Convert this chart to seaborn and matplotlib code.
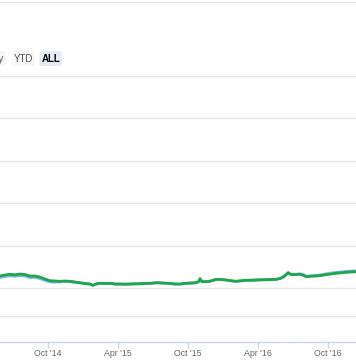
import matplotlib
matplotlib.use("Agg")
import matplotlib.pyplot as plt
from matplotlib.patches import FancyBboxPatch
import seaborn as sns
import pandas as pd

# ---- data ----
dates = ["2014-05-29", "2014-06-11", "2014-06-24", "2014-07-07", "2014-07-20", "2014-08-02",
         "2014-08-15", "2014-08-28", "2014-09-10", "2014-09-23", "2014-10-06", "2014-10-19",
         "2014-11-01", "2014-11-14", "2014-11-27", "2014-12-10", "2014-12-24", "2015-01-06",
         "2015-01-19", "2015-01-26", "2015-02-03", "2015-02-14", "2015-02-27", "2015-03-12",
         "2015-03-25", "2015-04-07", "2015-04-20", "2015-05-03", "2015-05-16", "2015-05-29",
         "2015-06-11", "2015-06-24", "2015-07-13", "2015-07-26", "2015-08-10", "2015-08-29",
         "2015-09-11", "2015-09-26", "2015-10-12", "2015-10-22", "2015-10-30", "2015-11-02",
         "2015-11-07", "2015-11-15", "2015-11-28", "2015-12-14", "2015-12-27", "2016-01-09",
         "2016-01-22", "2016-02-04", "2016-02-17", "2016-03-01", "2016-03-14", "2016-03-27",
         "2016-04-09", "2016-04-22", "2016-05-05", "2016-05-18", "2016-05-29", "2016-06-08",
         "2016-06-19", "2016-06-24", "2016-06-29", "2016-07-10", "2016-07-20", "2016-07-30",
         "2016-08-05", "2016-08-18", "2016-08-31", "2016-09-13", "2016-09-26", "2016-10-09",
         "2016-10-22", "2016-11-04", "2016-11-17", "2016-11-30", "2016-12-13"]

green_values = [128.3, 130.7, 132.3, 131.1, 133.0, 131.8, 128.3, 128.3, 125.9, 121.2, 117.2, 116.5,
                115.8, 116.5, 115.8, 114.1, 112.5, 110.6, 109.4, 106.4, 109.4, 111.1, 110.6, 111.1,
                109.4, 109.4, 109.0, 109.4, 109.9, 110.1, 110.6, 111.1, 112.5, 111.8, 111.1, 109.4,
                109.4, 111.1, 111.8, 112.5, 115.3, 121.9, 115.3, 114.9, 115.8, 120.5, 120.0, 118.9,
                117.0, 115.8, 117.0, 118.2, 118.4, 118.9, 119.3, 119.6, 120.0, 120.5, 122.4, 127.1,
                136.1, 133.0, 131.4, 131.8, 132.3, 129.5, 126.6, 127.6, 128.3, 129.5, 131.4, 133.0,
                134.7, 135.8, 137.0, 137.7, 138.4]

blue_values = [125.0, 127.2, 128.8, 127.6, 129.5, 128.3, 124.8, 124.8, 122.4, 118.2, 114.5, 114.0,
               114.2, 115.6, 115.0, 113.4, 112.0, 110.2, 109.0, 106.2, 109.2, 110.9, 110.4, 110.9,
               109.2, 109.2, 108.8, 109.2, 109.7, 109.9, 110.4, 110.9, 112.3, 111.6, 110.9, 109.2,
               109.2, 110.9, 111.6, 112.3, 115.1, 121.7, 115.1, 114.7, 115.6, 120.3, 119.8, 118.7,
               116.8, 115.6, 116.8, 118.0, 118.2, 118.7, 119.1, 119.4, 119.8, 120.3, 122.2, 126.9,
               135.9, 133.2, 131.6, 132.4, 133.6, 131.0, 128.0, 129.0, 129.8, 131.2, 133.4, 135.2,
               136.8, 137.8, 139.2, 139.9, 140.6]

volume_values = [0, 0, 0, 0, 0, 0, 0, 0, 0, 0, 0, 0,
                 0, 0, 0, 0, 0, 0, 0, 0, 0, 0, 0, 0,
                 0, 0, 0, 0, 0, 0, 0, 0, 0, 0, 0, 0,
                 0, 0, 0, 0, 4, 6, 0, 5, 0, 4, 0, 6,
                 0, 0, 0, 0, 5, 0, 0, 0, 6, 8, 10, 12,
                 9, 14, 8, 11, 7, 0, 5, 0, 0, 4, 0, 6,
                 0, 5, 8, 6, 5]

x_tick_dates = ["2014-10-01", "2015-04-01", "2015-10-01", "2016-04-01", "2016-10-01"]
x_tick_labels = ["Oct '14", "Apr '15", "Oct '15", "Apr '16", "Oct '16"]
y_ticks = [100, 200, 300, 400, 500, 600]
buttons = ["1y", "YTD", "ALL"]

df = pd.DataFrame({"date": pd.to_datetime(dates), "green": green_values,
                   "blue": blue_values, "volume": volume_values})

# ---- figure ----
sns.set_theme(style="white")
plt.rcParams["font.family"] = ["Liberation Sans", "DejaVu Sans"]

W, H = 356, 364
fig = plt.figure(figsize=(W / 100, H / 100), dpi=100)
fig.patch.set_facecolor("white")

def fy(py):
    return 1 - py / H

grid_c = "#e6e6e6"
axis_c = "#ccd6eb"
x0, x1 = pd.Timestamp("2014-05-29"), pd.Timestamp("2016-12-13")

# price pane: pixel 70..300, 600 at y=76, 100 at y=288
ax = fig.add_axes([0, fy(300), 1, (300 - 70) / H])
sc = 500 / 212
ax.set_ylim(100 - 12 * sc, 600 + 6 * sc)
ax.set_xlim(x0, x1)
sns.lineplot(data=df, x="date", y="blue", ax=ax, color="#7cb5ec", linewidth=2.0)
sns.lineplot(data=df, x="date", y="green", ax=ax, color="#1fa54a", linewidth=2.0)
ax.set_yticks(y_ticks)
ax.yaxis.grid(True, color=grid_c, linewidth=1)
ax.set_axisbelow(True)
ax.tick_params(left=False, bottom=False, labelleft=False, labelbottom=False)
for s in ax.spines.values():
    s.set_visible(False)
ax.set_xlabel("")
ax.set_ylabel("")
ax.patch.set_alpha(0)

# volume pane: pixel 310..342, gridline at 316
vax = fig.add_axes([0, fy(342), 1, (342 - 310) / H])
vax.set_xlim(x0, x1)
vax.set_ylim(0, 100 * 32 / 26)
vax.bar(df["date"], df["volume"], width=2, color="#9a9a9a")
vax.set_yticks([100])
vax.yaxis.grid(True, color=grid_c, linewidth=1)
vax.set_axisbelow(True)
vax.tick_params(left=False, labelleft=False)
for k, s in vax.spines.items():
    s.set_visible(k == "bottom")
vax.spines["bottom"].set_color(axis_c)
vax.spines["bottom"].set_linewidth(1)
vax.set_xticks(pd.to_datetime(x_tick_dates))
vax.set_xticklabels(x_tick_labels)
vax.tick_params(axis="x", bottom=True, length=4, width=1, color=axis_c, pad=1.0,
                labelsize=6.3, labelcolor="#666666")
vax.patch.set_alpha(0)

# top lines / range selector
fig.add_artist(plt.Line2D([0, 1], [fy(1.5), fy(1.5)], color=grid_c, linewidth=1))

def button(xl, xr, text, bg, bold=False, tx=None):
    box = FancyBboxPatch((xl / W, fy(66)), (xr - xl) / W, 15 / H,
                         boxstyle="round,pad=0,rounding_size=0.006",
                         transform=fig.transFigure, facecolor=bg, edgecolor="none")
    fig.add_artist(box)
    cx = (xl + xr) / 2 if tx is None else tx
    fig.text(cx / W, fy(58.5), text, ha="center", va="center",
             fontsize=7.0, color="#000000" if bold else "#555555",
             fontweight="bold" if bold else "normal")

button(-17, 6, buttons[0], "#f7f7f7", tx=-1.5)
button(12.5, 35, buttons[1], "#f7f7f7")
button(39.5, 62, buttons[2], "#e6ebf5", bold=True)

fig.savefig("out.png", dpi=100, facecolor="white")
